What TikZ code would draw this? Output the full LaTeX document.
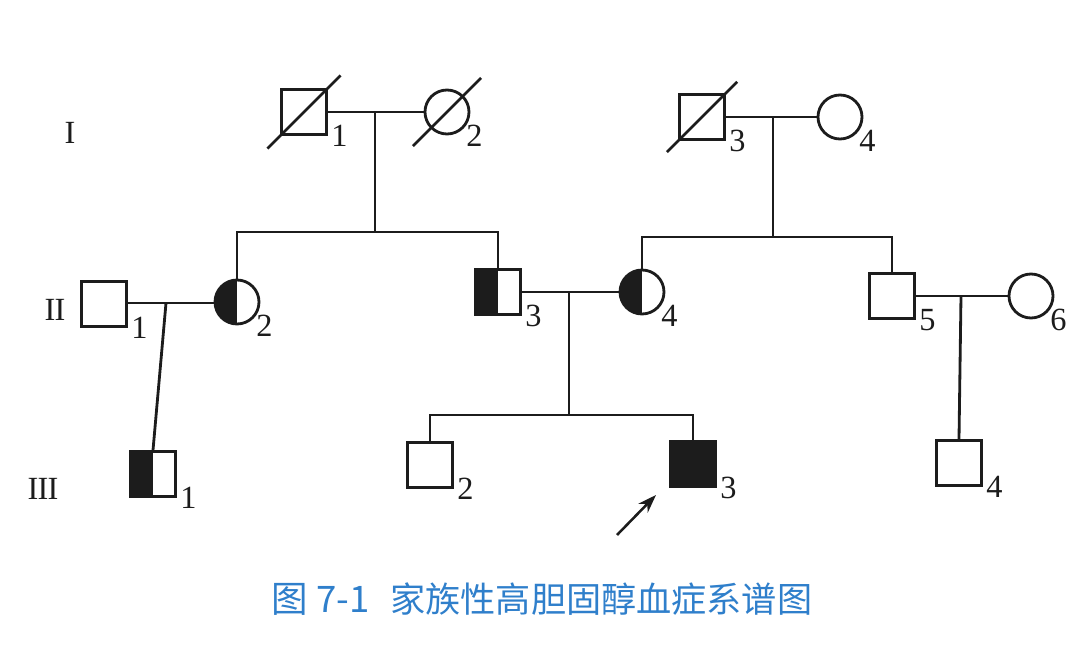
\documentclass[tikz,border=0pt]{standalone}
\usepackage{fontspec}
\setmainfont{Liberation Serif}
\newfontfamily\capfont{Noto Sans CJK SC}
\usetikzlibrary{arrows.meta}
\definecolor{pdblue}{HTML}{2F7FCB}
\definecolor{pdink}{HTML}{1C1C1C}

\tikzset{
  male/.style={draw=pdink, rectangle, minimum size=1.12cm, inner sep=0pt},
  female/.style={draw=pdink, circle, minimum size=1.1cm, inner sep=0pt},
  halfleft/.style={path picture={\fill[pdink] (path picture bounding box.south west)
      rectangle (path picture bounding box.north);}},
  affected/.style={fill=pdink},
  sqlab/.style={anchor=north west, inner sep=0pt, xshift=1.5pt, yshift=0.3cm},
  cilab/.style={anchor=north west, inner sep=0pt, xshift=1pt, yshift=0.12cm},
  gen/.style={inner sep=0pt, font=\fontsize{23}{23}\selectfont},
  dead/.style={shorten <=#1, shorten >=#1}
}

\begin{document}
\begin{tikzpicture}[x=0.025cm, y=-0.025cm, line width=2pt, pdink,
    font=\fontsize{23}{23}\selectfont]
  \useasboundingbox (0,0) rectangle (1080,661);
  % generations
  \node[gen] (gI)   at (70,133)  {I};
  \node[gen] (gII)  at (55,310)  {I\kern-0.5ptI};
  \node[gen] (gIII) at (43,489)  {I\kern-0.5ptI\kern-0.5ptI};

  % generation I
  \node[male]   (i1) at (304,112) [label={[sqlab]south east:1}] {};
  \node[female] (i2) at (447,112) [label={[cilab]south east:2}] {};
  \node[male]   (i3) at (702,117) [label={[sqlab]south east:3}] {};
  \node[female] (i4) at (840,117) [label={[cilab]south east:4}] {};
  \draw[dead=-0.45cm] (i1.south west) -- (i1.north east);
  \draw[dead=-0.62cm] (i2.south west) -- (i2.north east);
  \draw[dead=-0.4cm]  (i3.south west) -- (i3.north east);

  % generation II
  \node[male]            (ii1) at (104,304) [label={[sqlab]south east:1}] {};
  \node[female,halfleft] (ii2) at (237,302) [label={[cilab]south east:2}] {};
  \node[male,halfleft]   (ii3) at (498,292) [label={[sqlab]south east:3}] {};
  \node[female,halfleft] (ii4) at (642,292) [label={[cilab]south east:4}] {};
  \node[male]            (ii5) at (892,296) [label={[sqlab]south east:5}] {};
  \node[female]          (ii6) at (1031,296) [label={[cilab]south east:6}] {};

  % generation III
  \node[male,halfleft] (iii1) at (153,474) [label={[sqlab]south east:1}] {};
  \node[male]          (iii2) at (430,465) [label={[sqlab]south east:2}] {};
  \node[male,affected] (iii3) at (693,464) [label={[sqlab]south east:3}] {};
  \node[male]          (iii4) at (959,463) [label={[sqlab]south east:4}] {};

  % marriage and sibship points
  \coordinate (m1) at (375,112);
  \coordinate (s1) at (375,232);
  \coordinate (m2) at (773,117);
  \coordinate (s2) at (773,237);
  \coordinate (m3) at (166,303);
  \coordinate (m4) at (569,292);
  \coordinate (s4) at (569,415);
  \coordinate (m5) at (961,296);

  % lines
  \draw (i1) -- (i2);
  \draw (i3) -- (i4);
  \draw (ii1.east |- m3) -- (ii2.west |- m3);
  \draw (ii3) -- (ii4);
  \draw (ii5) -- (ii6);
  \draw (m1) -- (s1);
  \draw (m2) -- (s2);
  \draw (m4) -- (s4);
  \draw (ii2.north) |- (s1) -| (ii3.north);
  \draw (ii4.north) |- (s2) -| (ii5.north);
  \draw (iii2.north) |- (s4) -| (iii3.north);
  \draw (m3) -- (iii1.north);
  \draw (m5) -- (iii4.north);

  % proband
  \coordinate (pb) at (617,535);
  \coordinate (pt) at (656,495);
  \draw[-{Stealth[length=0.46cm, width=0.32cm]}, line width=1.8pt] (pb) -- (pt);

  % caption
  \node[anchor=west, inner sep=0pt, text=pdblue, font=\capfont\fontsize{26}{26}\selectfont]
    (cap1) at (270,599) {图 7-1};
  \node[anchor=west, inner sep=0pt, text=pdblue, font=\capfont\fontsize{25}{25}\selectfont]
    (cap2) at (389,599) {家族性高胆固醇血症系谱图};
\end{tikzpicture}
\end{document}
